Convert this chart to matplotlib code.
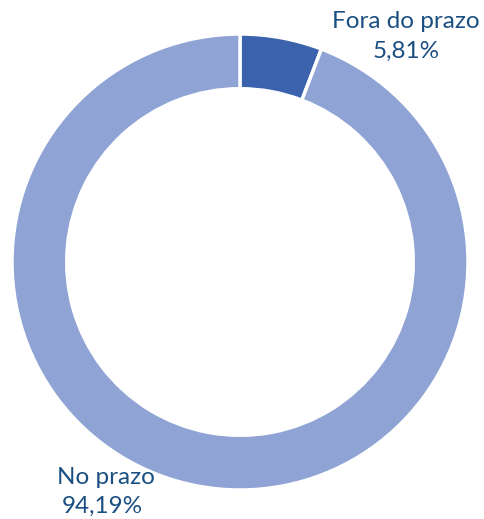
import matplotlib
matplotlib.use("Agg")
import matplotlib.pyplot as plt

categories = ["Fora do prazo", "No prazo"]
values = [5.81, 94.19]
value_labels = ["5,81%", "94,19%"]
colors = ["#3b62ad", "#8fa3d5"]
text_color = "#1b4f82"

W, H = 485, 519
fig = plt.figure(figsize=(W/100, H/100), dpi=100)
cx, cy, R = 240, 262, 228
ax = fig.add_axes([(cx-R)/W, (H-cy-R)/H, 2*R/W, 2*R/H])
ax.pie(values, colors=colors, startangle=90, counterclock=False,
       wedgeprops=dict(width=0.24, edgecolor="white", linewidth=2.5))
ax.set_xlim(-1, 1); ax.set_ylim(-1, 1)
ax.set_aspect("equal")
ax.axis("off")

fs = 17.5
fig.text(406/W, 1-22/H, categories[0], ha="center", va="center", color=text_color, fontsize=fs, family="Lato")
fig.text(406/W, 1-51/H, value_labels[0], ha="center", va="center", color=text_color, fontsize=fs, family="Lato")
fig.text(106/W, 1-478/H, categories[1], ha="center", va="center", color=text_color, fontsize=fs, family="Lato")
fig.text(102/W, 1-506/H, value_labels[1], ha="center", va="center", color=text_color, fontsize=fs, family="Lato")

fig.savefig("out.png", dpi=100)
